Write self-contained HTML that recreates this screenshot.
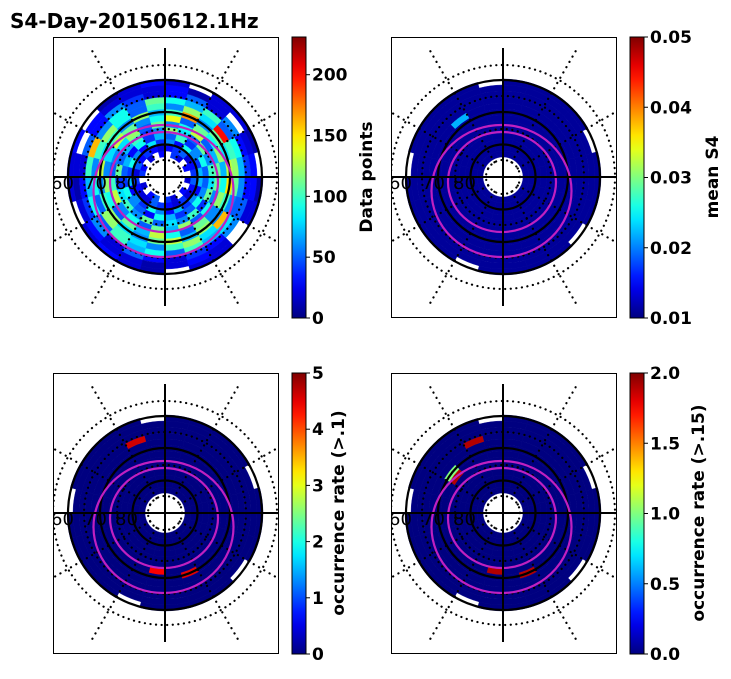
<!DOCTYPE html>
<html><head><meta charset="utf-8"><style>
html,body{margin:0;padding:0;background:#fff;}
svg text{font-family:"DejaVu Sans","Liberation Sans",sans-serif;}
</style></head><body>
<svg id="fig" width="731" height="674" xmlns="http://www.w3.org/2000/svg">
<text x="10" y="28" font-size="20" font-weight="bold">S4-Day-20150612.1Hz</text>
</svg>
<script>
// ---- data ----
const ringEdges = [20,26,32,38,44,50,56,62,68,74,80,86,92,98];
const nAngles = 24;
// Panel 1: data points (rings inner -> outer, 24 angular bins starting east, counter-clockwise)
const dataPoints = [
 [null,30,null,20,40,null,30,null,20,null,30,40,null,20,null,30,50,null,40,20,null,30,null,20],
 [40,30,20,50,40,30,20,30,40,30,50,20,40,30,20,20,50,40,30,20,40,20,30,50],
 [70,40,60,90,30,60,40,80,30,60,90,40,70,30,60,40,90,60,30,70,40,60,30,70],
 [50,90,60,40,100,50,70,40,90,30,70,50,40,90,60,50,30,90,70,40,50,90,60,50],
 [100,60,110,50,80,120,60,40,100,70,50,110,40,80,100,60,110,50,80,60,100,40,110,80],
 [110,70,50,130,90,60,110,50,120,80,60,50,100,130,60,90,50,110,70,120,50,90,60,110],
 [70,120,90,110,50,140,90,60,110,130,80,60,120,90,50,110,70,130,90,50,110,60,120,90],
 [130,80,110,60,170,100,70,120,60,100,80,130,60,100,120,80,60,110,130,70,120,60,100,150],
 [120,100,200,80,120,60,100,50,90,120,100,60,90,50,120,100,80,60,100,120,80,160,60,110],
 [70,90,50,100,70,90,110,50,90,60,160,100,70,90,50,100,70,90,50,100,70,80,50,60],
 [40,30,60,20,50,30,20,40,60,30,50,20,30,40,60,20,50,30,20,40,30,60,50,30],
 [30,20,null,20,10,30,20,20,20,30,null,20,10,20,30,20,20,10,20,30,20,null,20,30],
 [null,10,20,20,null,20,30,20,10,null,30,20,20,null,20,30,20,10,null,20,20,null,20,10]
];
// Panel 2: mean S4
const meanS4Base = [0.011,0.011,0.011,0.011,0.011,0.011,0.011,0.011,0.011,0.011,0.011,0.011,0.011];
const meanS4Gaps = [0,0,0,0,0,0,0,0,0,0,0,0,1];
// Panel 3/4: occurrence rates (mostly zero)
const occ1Base = [0,0,0,0,0,0,0,0,0,0,0,0,0];
const occ2Base = [0,0,0,0,0,0,0,0,0,0,0,0,0];
// hot spots: [ring, angleBin, value]
const meanS4Hot = [[8,8,0.022]];
const occ1Hot = [[9,7,4.6],[6,17,4.4],[7,19,4.5]];
const occ2Hot = [[9,7,1.9],[6,9,1.9],[7,9,1.0],[6,17,1.9],[7,19,1.9]];
// colorbar ticks
const cb1Ticks = [0,50,100,150,200];
const cb2Ticks = [0.01,0.02,0.03,0.04,0.05];
const cb3Ticks = [0,1,2,3,4,5];
const cb4Ticks = [0.0,0.5,1.0,1.5,2.0];
const cb2Labels = ['0.01','0.02','0.03','0.04','0.05'];
const cb4Labels = ['0.0','0.5','1.0','1.5','2.0'];

const NS='http://www.w3.org/2000/svg';
const svg=document.getElementById('fig');
function mk(tag,attrs,parent){const e=document.createElementNS(NS,tag);for(const k in attrs)e.setAttribute(k,attrs[k]);(parent||svg).appendChild(e);return e;}
function clip(v){return Math.max(0,Math.min(1,v));}
function jet(t){t=clip(t);const r=clip(1.5-Math.abs(4*t-3)),g=clip(1.5-Math.abs(4*t-2)),b=clip(1.5-Math.abs(4*t-1));return `rgb(${Math.round(r*255)},${Math.round(g*255)},${Math.round(b*255)})`;}
function sector(cx,cy,r0,r1,a0,a1){
 const p=(r,a)=>[(cx+r*Math.cos(a)).toFixed(2),(cy-r*Math.sin(a)).toFixed(2)];
 const A=p(r1,a0),B=p(r1,a1),C=p(r0,a1),D=p(r0,a0);
 return `M${A}A${r1},${r1} 0 0 0 ${B}L${C}A${r0},${r0} 0 0 1 ${D}Z`;
}
function makeGrid(base,gaps,hot){
 const g=base.map((v,i)=>{const row=[];for(let j=0;j<nAngles;j++)row.push(v);return row;});
 if(gaps) gaps.forEach((f,i)=>{if(f){for(let j=1;j<nAngles;j+=5)g[i][j]=null;}});
 hot.forEach(h=>{g[h[0]][h[1]]=h[2];});
 return g;
}
function panel(id,bx,by,grid,vmin,vmax,cbTicks,cbLabels,cbTitle,titleX){
 const w=226,h=281,cx=bx+112,cy=by+140;
 const grp=mk('g',{});
 
 
 const cp=mk('clipPath',{id:id+'-clip'},grp);mk('rect',{x:bx,y:by,width:w,height:h},cp);
 const inner=mk('g',{'clip-path':`url(#${id}-clip)`},grp);
 grid.forEach((row,i)=>{row.forEach((v,j)=>{
  if(v===null)return;
  const a0=j*2*Math.PI/nAngles,a1=(j+1)*2*Math.PI/nAngles;
  const col=jet((v-vmin)/(vmax-vmin));
  const c=mk('path',{d:sector(cx,cy,ringEdges[i],ringEdges[i+1],a0,a1),fill:col,stroke:col,'stroke-width':0.4},inner);
  
  
 });});
 [17,48,81,112].forEach(r=>{const c=mk('circle',{cx,cy,r,fill:'none',stroke:'#000','stroke-width':2.2,'stroke-dasharray':'0.1 5.5','stroke-linecap':'round'},inner);
  });
 for(let k=0;k<12;k++){if(k%3===0)continue;const a=k*Math.PI/6;
  const l=mk('line',{x1:cx+17*Math.cos(a),y1:cy-17*Math.sin(a),x2:cx+150*Math.cos(a),y2:cy-150*Math.sin(a),stroke:'#000','stroke-width':2.2,'stroke-dasharray':'0.1 6','stroke-linecap':'round'},inner);
  }
 [32.5,65,97].forEach(r=>{const c=mk('circle',{cx,cy,r,fill:'none',stroke:'#000','stroke-width':2.2},inner);
  });
 const m1=mk('ellipse',{cx:cx-1.5,cy:cy+14,rx:70,ry:66,fill:'none',stroke:'#c020c0','stroke-width':2.2},inner);
 
 const m2=mk('ellipse',{cx:cx-1,cy:cy+5,rx:54,ry:50,fill:'none',stroke:'#c020c0','stroke-width':2.2},inner);
 
 const v=mk('line',{x1:cx,y1:cy-129,x2:cx,y2:cy+129,stroke:'#000','stroke-width':2},inner);
 
 const hz=mk('line',{x1:bx,y1:cy,x2:bx+w,y2:cy,stroke:'#000','stroke-width':2},inner);
 
 [['60',bx-2,'lat-label-60'],['70',bx+31,'lat-label-70'],['80',bx+62,'lat-label-80']].forEach(t=>{
  const e=mk('text',{x:t[1],y:cy+12,'font-size':18},inner);e.textContent=t[0];
  });
 const fr=mk('rect',{x:bx+0.5,y:by+0.5,width:w-1,height:h-1,fill:'none',stroke:'#000','stroke-width':1},grp);
 
 const cbx=bx+239,cbw=14;
 const gid=id+'-grad';const lg=mk('linearGradient',{id:gid,x1:0,y1:1,x2:0,y2:0},grp);
 for(let s=0;s<=20;s++)mk('stop',{offset:s/20,'stop-color':jet(s/20)},lg);
 const cb=mk('rect',{x:cbx,y:by,width:cbw,height:h,fill:`url(#${gid})`,stroke:'#000','stroke-width':1},grp);
 
 cbTicks.forEach((t,i)=>{const y=by+h-(t-vmin)/(vmax-vmin)*h;
  const tk=mk('line',{x1:cbx+cbw,y1:y,x2:cbx+cbw+4,y2:y,stroke:'#000','stroke-width':1},grp);
  
  const tl=mk('text',{x:cbx+cbw+6,y:y+6,'font-size':17,'font-weight':'bold'},grp);
  tl.textContent=cbLabels?cbLabels[i]:String(t);
  });
 const ct=mk('text',{x:titleX,y:cy,'font-size':17,'font-weight':'bold','text-anchor':'middle',transform:`rotate(-90 ${titleX} ${cy})`},grp);
 ct.textContent=cbTitle;
}
panel('data-points',53,37,dataPoints,0,231,cb1Ticks,null,'Data points',372);
panel('mean-s4',391,37,makeGrid(meanS4Base,meanS4Gaps,meanS4Hot),0.01,0.05,cb2Ticks,cb2Labels,'mean S4',718);
panel('occurrence-1',53,373,makeGrid(occ1Base,meanS4Gaps,occ1Hot),0,5,cb3Ticks,null,'occurrence rate (>.1)',344);
panel('occurrence-15',391,373,makeGrid(occ2Base,meanS4Gaps,occ2Hot),0,2,cb4Ticks,cb4Labels,'occurrence rate (>.15)',704);
</script>
</body></html>
